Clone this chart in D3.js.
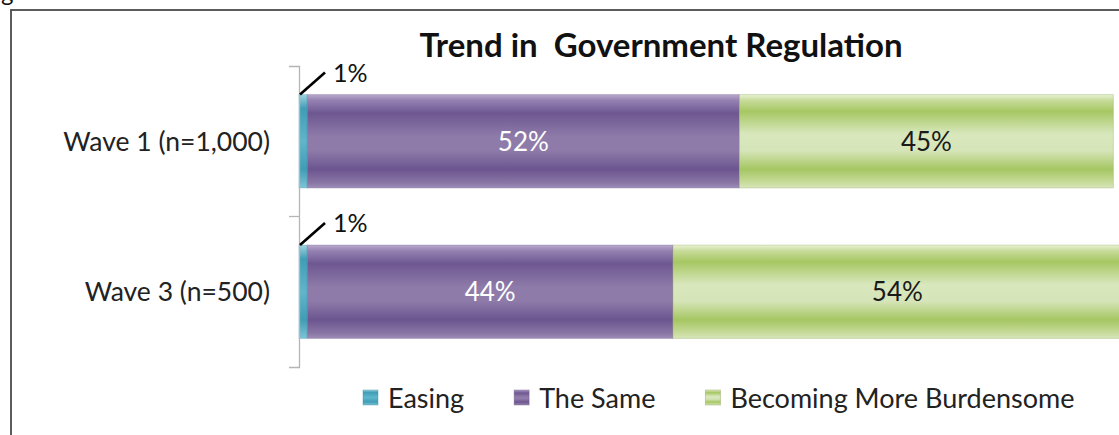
<!DOCTYPE html>
<html>
<head>
<meta charset="utf-8">
<script src="https://cdn.jsdelivr.net/npm/d3@7"></script>
<style>
  html, body { margin: 0; padding: 0; background: #fff; }
  svg { display: block; font-family: Lato, "Open Sans", sans-serif; }
</style>
</head>
<body>
<svg id="chart" width="1119" height="435"></svg>
<script>
// Survey waves and answer shares (percent)
const categories = ["Wave 1 (n=1,000)", "Wave 3 (n=500)"];
const seriesNames = ["Easing", "The Same", "Becoming More Burdensome"];
const easing = [1, 1];
const theSame = [52, 44];
const burdensome = [45, 54];
const chartTitle = "Trend in  Government Regulation";

const svg = d3.select("#chart");
const W = 1119, H = 435;

// outer frame (right and bottom edges run past the canvas)
svg.append("rect")
  .attr("x", 11).attr("y", 10)
  .attr("width", W + 20).attr("height", H + 20)
  .attr("fill", "#fff").attr("stroke", "#4a4a4a").attr("stroke-width", 1.8);

// descender of the caption line above the frame
svg.append("text")
  .attr("x", 1).attr("y", 1)
  .attr("font-size", 24).attr("fill", "#111")
  .text("g");

svg.append("text")
  .attr("x", 661).attr("y", 57)
  .attr("text-anchor", "middle")
  .style("white-space", "pre")
  .attr("font-size", 33).attr("font-weight", "bold").attr("fill", "#111")
  .text(chartTitle);

const x = d3.scaleLinear().domain([0, 100]).range([299, 1130]);
const y = d3.scaleBand().domain(categories).range([66, 367])
  .paddingInner(0.38).paddingOuter(0.19);

const colors = ["#4BACC6", "#8064A2", "#9BBB59"];

// glossy vertical gradients for each series
const defs = svg.append("defs");
const gradStops = [
  [[0, "#9fd3e0"], [0.15, "#3f9db6"], [0.5, "#5fb6cc"], [0.8, "#3f9db6"], [1, "#7cc4d6"]],
  [[0, "#b9a9cc"], [0.06, "#9582b2"], [0.2, "#6e5791"], [0.45, "#8e7ba9"], [0.6, "#8e7ba9"], [0.8, "#6c5590"], [0.95, "#8a77a5"], [1, "#9f8fb8"]],
  [[0, "#eaf2d6"], [0.06, "#c8dc9b"], [0.18, "#a6c763"], [0.42, "#d8e7bc"], [0.6, "#d6e5b9"], [0.8, "#a5c662"], [0.95, "#cadd9f"], [1, "#d8e6bd"]]
];
gradStops.forEach((stops, i) => {
  const g = defs.append("linearGradient")
    .attr("id", "grad" + i).attr("x1", 0).attr("x2", 0).attr("y1", 0).attr("y2", 1);
  stops.forEach(s => g.append("stop").attr("offset", s[0]).attr("stop-color", s[1]));
});

const rows = categories.map((c, i) => ({
  cat: c, values: [easing[i], theSame[i], burdensome[i]]
}));

const segs = [];
rows.forEach(r => {
  let acc = 0;
  r.values.forEach((v, k) => {
    segs.push({ cat: r.cat, k, v, x0: acc, x1: acc + v });
    acc += v;
  });
});

svg.append("g").selectAll("rect")
  .data(segs).join("rect")
  .attr("x", d => x(d.x0))
  .attr("y", d => y(d.cat))
  .attr("width", d => x(d.x1) - x(d.x0))
  .attr("height", y.bandwidth())
  .attr("fill", d => `url(#grad${d.k})`)
  .attr("stroke", d => d3.color(colors[d.k]).darker(0.3))
  .attr("stroke-opacity", 0.35)
  .attr("stroke-width", 1);

// category axis
const axis = d3.axisLeft(y).tickSize(0).tickSizeOuter(10).tickPadding(29);
const axG = svg.append("g").attr("transform", `translate(${x(0)},0)`).call(axis);
axG.select(".domain").attr("stroke", "#b5b5b5").attr("stroke-width", 1.3);
axG.selectAll("text").attr("font-size", 26.5).attr("fill", "#222")
  .attr("font-family", "Lato, sans-serif").attr("dy", "0.36em");
// tick on the boundary between the two bands
axG.append("line")
  .attr("x1", -10).attr("x2", 0)
  .attr("y1", y(categories[1]) - y.step() * y.paddingInner() / 2)
  .attr("y2", y(categories[1]) - y.step() * y.paddingInner() / 2)
  .attr("stroke", "#b5b5b5").attr("stroke-width", 1.3);

// value labels
const big = segs.filter(d => d.v >= 5);
svg.append("g").selectAll("text")
  .data(big).join("text")
  .attr("x", d => x((d.x0 + d.x1) / 2))
  .attr("y", d => y(d.cat) + y.bandwidth() / 2)
  .attr("dy", "0.36em")
  .attr("text-anchor", "middle")
  .attr("font-size", 26)
  .attr("fill", d => d.k === 1 ? "#fff" : "#1a1a1a")
  .text(d => d.v + "%");

// small segments get a callout above the bar
const small = segs.filter(d => d.v < 5);
const call = svg.append("g").selectAll("g").data(small).join("g");
call.append("line")
  .attr("x1", d => x(d.x0) + 1).attr("y1", d => y(d.cat))
  .attr("x2", d => x(d.x0) + 26).attr("y2", d => y(d.cat) - 22)
  .attr("stroke", "#000").attr("stroke-width", 2.6);
call.append("text")
  .attr("x", d => x(d.x0) + 34).attr("y", d => y(d.cat) - 13)
  .attr("font-size", 25).attr("fill", "#111")
  .text(d => d.v + "%");

// legend
const legend = svg.append("g").attr("transform", "translate(363,398)");
let lx = 0;
seriesNames.forEach((name, i) => {
  const g = legend.append("g").attr("transform", `translate(${lx},0)`);
  g.append("rect").attr("x", 0).attr("y", -8).attr("width", 15).attr("height", 15)
    .attr("fill", `url(#grad${i})`).attr("stroke", d3.color(colors[i]).darker(0.5)).attr("stroke-opacity", 0.4);
  const t = g.append("text").attr("x", 25).attr("y", 0).attr("dy", "0.36em")
    .attr("font-size", 27).attr("fill", "#222").text(name);
  lx += 25 + t.node().getComputedTextLength() + 50;
});
</script>
</body>
</html>
